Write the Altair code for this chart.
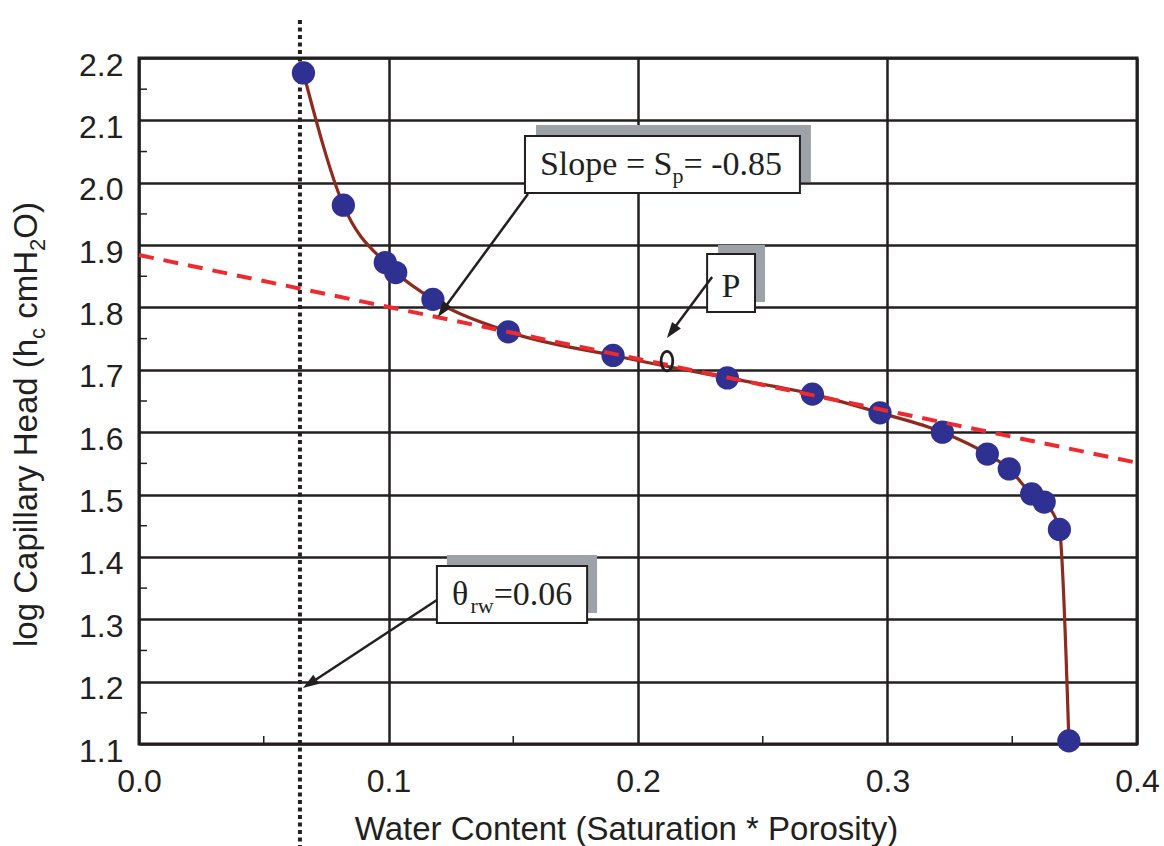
import math
import altair as alt
import pandas as pd

# ---------------- data ----------------
water_content = [0.0659, 0.0819, 0.0987, 0.1029, 0.1178, 0.1480, 0.1900, 0.2358, 0.2699,
                 0.2970, 0.3220, 0.3400, 0.3488, 0.3578, 0.3628, 0.3689, 0.3727]
log_head = [2.176, 1.964, 1.872, 1.856, 1.813, 1.761, 1.723, 1.687, 1.661,
            1.631, 1.600, 1.565, 1.541, 1.501, 1.488, 1.444, 1.105]

fit_x = [0.0, 0.4]
fit_y = [1.884, 1.551]

theta_rw_x = [0.0645]
p_x = [0.2116]
p_y = [1.7141]

x_ticks = [0.0, 0.1, 0.2, 0.3, 0.4]
y_ticks = [1.1, 1.2, 1.3, 1.4, 1.5, 1.6, 1.7, 1.8, 1.9, 2.0, 2.1, 2.2]
x_minor = [0.05, 0.15, 0.25, 0.35]
y_minor = [1.15, 1.25, 1.35, 1.45, 1.55, 1.65, 1.75, 1.85, 1.95, 2.05, 2.15]

x_title = "Water Content (Saturation * Porosity)"
y_title_parts = [("log Capillary Head (h", False), ("c", True), (" cmH", False), ("2", True), ("O)", False)]

# annotation boxes (data units): shadow box, white box
slope_shadow = dict(x=0.1591, x2=0.2693, y=2.0926, y2=2.0012)
slope_box = dict(x=0.1547, x2=0.2649, y=2.0749, y2=1.9835)
p_shadow = dict(x=0.2321, x2=0.2509, y=1.9001, y2=1.8087)
p_box = dict(x=0.2277, x2=0.2469, y=1.8857, y2=1.7927)
th_shadow = dict(x=0.1234, x2=0.1836, y=1.4030, y2=1.3100)
th_box = dict(x=0.1194, x2=0.1796, y=1.3854, y2=1.2940)

# arrows: (start x, start y, tip x, tip y)
arrows = [
    (0.1559, 1.9819, 0.1198, 1.7847),
    (0.2297, 1.8488, 0.2116, 1.7510),
    (0.1194, 1.3309, 0.0657, 1.1897),
]

# ---------------- style ----------------
W, H = 998, 686
XD, YD = [0.0, 0.4], [1.1, 2.2]
INK = "#231F20"
SANS = "Liberation Sans"
SERIF = "Liberation Serif"
PX_X = W / (XD[1] - XD[0])
PX_Y = H / (YD[1] - YD[0])

ARIAL = {' ': 278, '(': 333, ')': 333, '*': 389, '.': 278, 'C': 722, 'H': 722, 'O': 778,
         'P': 667, 'S': 667, 'W': 944, 'a': 556, 'c': 500, 'd': 556, 'e': 556, 'g': 556,
         'h': 556, 'i': 222, 'l': 222, 'm': 833, 'n': 556, 'o': 556, 'p': 556, 'r': 333,
         's': 500, 't': 278, 'u': 556, 'y': 500}
TIMES = {' ': 250, '=': 564, '-': 333, '.': 250, 'S': 556, 'l': 278, 'o': 500, 'p': 500,
         'e': 444, 'P': 556, 'r': 333, 'w': 722, '\u03b8': 540}


def tw(s, size, table):
    return sum(table.get(ch, 556 if table is ARIAL else 500) for ch in s) * size / 1000.0


XS = alt.Scale(domain=XD, nice=False, zero=False)
YS = alt.Scale(domain=YD, nice=False, zero=False)

XAXIS = alt.Axis(values=x_ticks, format=".1f", title=x_title, tickSize=0, labelPadding=47,
                 labelBaseline="alphabetic", labelFlush=False, labelOverlap=False, domain=False,
                 grid=True, gridColor=INK, gridWidth=2.5, labelFont=SANS, labelFontSize=32,
                 labelColor=INK, titleFont=SANS, titleFontSize=33, titleFontWeight="normal",
                 titleColor=INK, titleX=487, titleY=95, titleBaseline="alphabetic",
                 titleAlign="center")
YAXIS = alt.Axis(values=y_ticks, format=".1f", title="", tickSize=0, labelPadding=16,
                 labelBaseline="middle", labelOffset=7, labelFlush=False, labelOverlap=False,
                 domain=False, grid=True, gridColor=INK, gridWidth=2.5, labelFont=SANS,
                 labelFontSize=32, labelColor=INK)


def X(f="x"):
    return alt.X(f"{f}:Q", scale=XS, axis=XAXIS)


def Y(f="y"):
    return alt.Y(f"{f}:Q", scale=YS, axis=YAXIS)


layers = []

# minor ticks
layers.append(alt.Chart(pd.DataFrame({"x": x_minor})).mark_rule(color=INK, strokeWidth=1.5).encode(
    x=X(), y=alt.value(H), y2=alt.value(H - 8)))
layers.append(alt.Chart(pd.DataFrame({"y": y_minor})).mark_rule(color=INK, strokeWidth=1.5).encode(
    y=Y(), x=alt.value(0), x2=alt.value(8)))

# dotted residual water content line
layers.append(alt.Chart(pd.DataFrame({"x": theta_rw_x})).mark_rule(
    color=INK, strokeWidth=4, strokeDash=[4, 3.5]).encode(
    x=X(), y=alt.value(-38), y2=alt.value(H + 104)))

pts = pd.DataFrame({"x": water_content, "y": log_head})
layers.append(alt.Chart(pts).mark_line(color="#8E2A1E", strokeWidth=3.2, interpolate="monotone").encode(
    x=X(), y=Y()))
layers.append(alt.Chart(pts).mark_circle(color="#2E3192", opacity=1, size=540).encode(x=X(), y=Y()))

layers.append(alt.Chart(pd.DataFrame({"x": fit_x, "y": fit_y})).mark_line(
    color="#EC2A2F", strokeWidth=4, strokeDash=[15, 10]).encode(x=X(), y=Y()))

ELLIPSE = "M0,-1A0.6,1,0,1,1,0,1A0.6,1,0,1,1,0,-1Z"
layers.append(alt.Chart(pd.DataFrame({"x": p_x, "y": p_y})).mark_point(
    shape=ELLIPSE, size=380, filled=False, stroke=INK, strokeWidth=2.8, opacity=1).encode(
    x=X(), y=Y()))

# boxes
for sh, bx in [(slope_shadow, slope_box), (p_shadow, p_box), (th_shadow, th_box)]:
    layers.append(alt.Chart(pd.DataFrame({k: [v] for k, v in sh.items()})).mark_rect(
        color="#9CA2A7").encode(x=X(), x2="x2:Q", y=Y(), y2="y2:Q"))
    layers.append(alt.Chart(pd.DataFrame({k: [v] for k, v in bx.items()})).mark_rect(
        fill="white", stroke=INK, strokeWidth=2).encode(x=X(), x2="x2:Q", y=Y(), y2="y2:Q"))


def seg_text(x, y, segs, size, sub):
    """segs: list of (text, is_sub). x,y anchor in data units."""
    out = []
    off = 0.0
    for s, is_sub in segs:
        fs = sub if is_sub else size
        lead = len(s) - len(s.lstrip(" "))
        off += tw(" " * lead, fs, TIMES)
        st = s.lstrip(" ")
        out.append(alt.Chart(pd.DataFrame({"x": [x], "y": [y]})).mark_text(
            text=st, font=SERIF, fontSize=fs, align="left", baseline="alphabetic",
            color=INK, dx=off, dy=(8 if is_sub else 0)).encode(x=X(), y=Y()))
        off += tw(st, fs, TIMES)
    return out


layers += seg_text(0.1607, 2.0124, [("Slope = S", False), ("p", True), ("= -0.85", False)], 34, 22)
layers.append(alt.Chart(pd.DataFrame({"x": [0.2373], "y": [1.8167]})).mark_text(
    text="P", font=SERIF, fontSize=34, align="center", baseline="alphabetic", color=INK).encode(
    x=X(), y=Y()))
layers += seg_text(0.1255, 1.3228, [("\u03b8", False), ("rw", True), ("=0.06", False)], 34, 22)

# arrows
HEAD = "M0,0L-0.55,1.6L0.55,1.6Z"
for (x0, y0, x1, y1) in arrows:
    dxp = (x1 - x0) * PX_X
    dyp = -(y1 - y0) * PX_Y
    L = math.hypot(dxp, dyp)
    ang = math.degrees(math.atan2(dxp, -dyp)) % 360
    back = 12.0 / L
    xe = x1 - (x1 - x0) * back
    ye = y1 - (y1 - y0) * back
    layers.append(alt.Chart(pd.DataFrame({"x": [x0], "y": [y0], "x2": [xe], "y2": [ye]})).mark_rule(
        color=INK, strokeWidth=2.5).encode(x=X(), y=Y(), x2="x2:Q", y2="y2:Q"))
    layers.append(alt.Chart(pd.DataFrame({"x": [x1], "y": [y1]})).mark_point(
        shape=HEAD, size=400, filled=True, color=INK, opacity=1, strokeWidth=0, angle=ang).encode(
        x=X(), y=Y()))

# rotated y-axis title built from segments (for subscripts)
ypos = 589.0
for s, is_sub in y_title_parts:
    fs = 22 if is_sub else 33
    lead = len(s) - len(s.lstrip(" "))
    ypos -= tw(" " * lead, fs, ARIAL)
    st = s.lstrip(" ")
    layers.append(alt.Chart(pd.DataFrame({"t": [st]})).mark_text(
        text=st, font=SANS, fontSize=fs, align="left", baseline="alphabetic", angle=270,
        color=INK).encode(x=alt.value(-102 + (8 if is_sub else 0)), y=alt.value(ypos)))
    ypos -= tw(st, fs, ARIAL)

chart = alt.layer(*layers).properties(
    width=W, height=H,
    autosize=alt.AutoSizeParams(type="none"),
    padding={"left": 139, "top": 58, "right": 27, "bottom": 102},
    background="white",
).configure_view(stroke=INK, strokeWidth=3)

chart.save("out.html", embed_options={"renderer": "svg", "actions": False})
